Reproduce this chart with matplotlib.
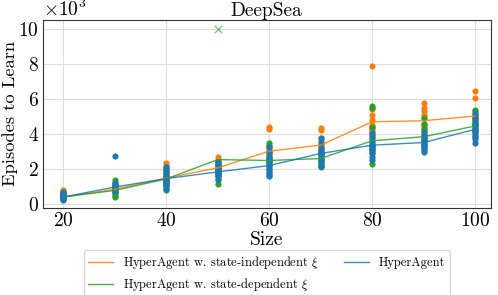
import matplotlib
matplotlib.use('Agg')
import matplotlib.pyplot as plt
import numpy as np

plt.rcParams['font.family'] = 'serif'
plt.rcParams['font.serif'] = ['cmr10']
plt.rcParams['mathtext.fontset'] = 'cm'
plt.rcParams['axes.formatter.use_mathtext'] = True
plt.rcParams['axes.unicode_minus'] = False

# data (episodes, in thousands)
sizes = [20, 30, 40, 50, 60, 70, 80, 90, 100]

indep_runs = [
    [0.55, 0.6, 0.65, 0.7, 0.8, 0.45, 0.5, 0.4, 0.75, 0.6],
    [0.8, 0.9, 1.0, 0.7, 1.1, 0.85, 0.95, 1.2, 0.75, 0.9],
    [2.36, 2.2, 1.8, 1.5, 1.3, 1.6, 1.2, 1.4, 1.9, 1.1],
    [2.67, 2.55, 2.3, 2.0, 1.8, 2.1, 1.7, 2.4, 1.9, 2.2],
    [4.4, 4.3, 3.4, 3.2, 2.9, 3.1, 2.8, 2.6, 2.5, 3.0],
    [4.35, 4.25, 3.8, 3.6, 3.3, 3.1, 2.9, 3.2, 3.4, 2.8],
    [7.9, 5.4, 5.1, 4.8, 4.5, 4.3, 4.2, 4.0, 3.9, 4.4],
    [5.75, 5.5, 5.3, 5.1, 4.9, 4.6, 4.4, 4.2, 4.3, 4.5],
    [6.47, 6.08, 5.3, 5.1, 4.9, 4.8, 4.7, 4.6, 4.5, 4.9],
]
dep_runs = [
    [0.4, 0.5, 0.6, 0.3, 0.45, 0.55, 0.35, 0.5, 0.6, 0.4],
    [1.37, 1.2, 1.0, 0.8, 0.6, 0.42, 0.7, 0.9, 1.1, 0.5],
    [2.1, 1.9, 1.7, 1.5, 1.3, 1.1, 0.8, 1.0, 1.6, 1.4],
    [2.4, 2.2, 2.0, 1.8, 1.6, 1.18, 1.4, 2.3, 1.9],
    [3.5, 3.3, 2.9, 2.6, 2.4, 2.2, 2.0, 1.8, 2.5, 2.7],
    [3.0, 2.8, 2.6, 2.4, 2.3, 2.13, 2.5, 2.7, 2.9, 2.2],
    [5.6, 5.5, 4.38, 3.9, 3.6, 3.4, 3.2, 2.9, 2.32, 3.1],
    [4.9, 4.6, 4.3, 4.0, 3.8, 3.6, 3.4, 3.3, 3.7, 3.9],
    [5.37, 5.1, 4.8, 4.6, 4.4, 4.2, 3.81, 4.0, 4.5, 4.3],
]
base_runs = [
    [0.25, 0.3, 0.35, 0.4, 0.45, 0.5, 0.55, 0.6, 0.65, 0.7],
    [2.74, 1.2, 1.1, 1.0, 0.95, 0.9, 0.85, 0.8, 0.75, 1.05],
    [2.13, 2.0, 1.8, 1.6, 1.5, 1.4, 1.3, 1.1, 0.9, 1.2],
    [2.42, 2.3, 2.1, 1.95, 1.8, 1.7, 1.6, 1.47, 1.9, 2.0],
    [3.27, 3.0, 2.7, 2.4, 2.2, 2.0, 1.85, 1.7, 1.6, 2.3],
    [3.79, 3.5, 3.2, 3.0, 2.8, 2.6, 2.4, 2.2, 2.9, 3.1],
    [4.06, 3.8, 3.5, 3.3, 3.1, 2.9, 2.7, 2.51, 3.2, 3.4],
    [4.13, 3.9, 3.7, 3.5, 3.4, 3.3, 3.2, 3.1, 2.99, 3.6],
    [5.18, 4.9, 4.7, 4.5, 4.3, 4.1, 3.9, 3.7, 3.47, 4.2],
]

# mean curves
indep_mean = [0.42, 0.86, 1.5, 2.08, 3.03, 3.37, 4.7, 4.76, 5.03]
dep_mean = [0.42, 0.8, 1.45, 2.55, 2.5, 2.61, 3.62, 3.85, 4.46]
base_mean = [0.42, 0.99, 1.47, 1.85, 2.21, 2.9, 3.37, 3.52, 4.27]

# failed run (did not learn within budget)
fail_size = [50]
fail_value = [10.0]

methods = [
    ("HyperAgent w. state-independent $\\xi$", indep_runs, indep_mean, "tab:orange"),
    ("HyperAgent w. state-dependent $\\xi$", dep_runs, dep_mean, "tab:green"),
    ("HyperAgent", base_runs, base_mean, "tab:blue"),
]

fig = plt.figure(figsize=(4.98, 2.95), dpi=100)
ax = fig.add_axes([0.086, 0.296, 0.899, 0.636])

for label, runs, mean, color in methods:
    for s, vals in zip(sizes, runs):
        v = np.array(vals) * 1000
        ax.scatter([s] * len(v), v, s=20, color=color, linewidths=0, zorder=2)
    ax.plot(sizes, np.array(mean) * 1000, color=color, lw=1.0, alpha=0.85,
            label=label, zorder=3)

ax.scatter(fail_size, np.array(fail_value) * 1000, marker='x', s=28,
           color='tab:green', alpha=0.6, linewidths=1.0, zorder=2)

ax.set_xlim(16, 103)
ax.set_ylim(-185, 10485)
ax.set_xticks([20, 40, 60, 80, 100])
ax.set_yticks([0, 2000, 4000, 6000, 8000, 10000])
ax.ticklabel_format(axis='y', style='sci', scilimits=(3, 3))
ax.yaxis.get_offset_text().set_fontsize(14)
ax.tick_params(axis='both', length=0, labelsize=14, pad=3)
ax.grid(True, color='#dddddd', lw=0.8)
ax.set_axisbelow(True)
for sp in ax.spines.values():
    sp.set_color('#333333')

ax.set_title("DeepSea", fontsize=14, pad=3)
ax.set_xlabel("Size", fontsize=14, labelpad=1)
ylab = ax.set_ylabel("Episodes to Learn", fontsize=14, labelpad=2)

# fit the y label to the span it has in the reference (about 145 px tall, left edge near x=3)
renderer = fig.canvas.get_renderer()
bb = ylab.get_window_extent(renderer)
ylab.set_fontsize(14 * 145.0 / bb.height)
fig.canvas.draw()
bb = ylab.get_window_extent(renderer)
ax.yaxis.labelpad = max(0.0, 2 + (bb.x0 - 3) * 72.0 / fig.dpi)

ax.legend(loc='upper center', bbox_to_anchor=(0.5, -0.225), ncol=2,
          fontsize=9, frameon=True, borderaxespad=0, borderpad=0.35,
          labelspacing=0.4)

fig.savefig("out.png", dpi=100)
